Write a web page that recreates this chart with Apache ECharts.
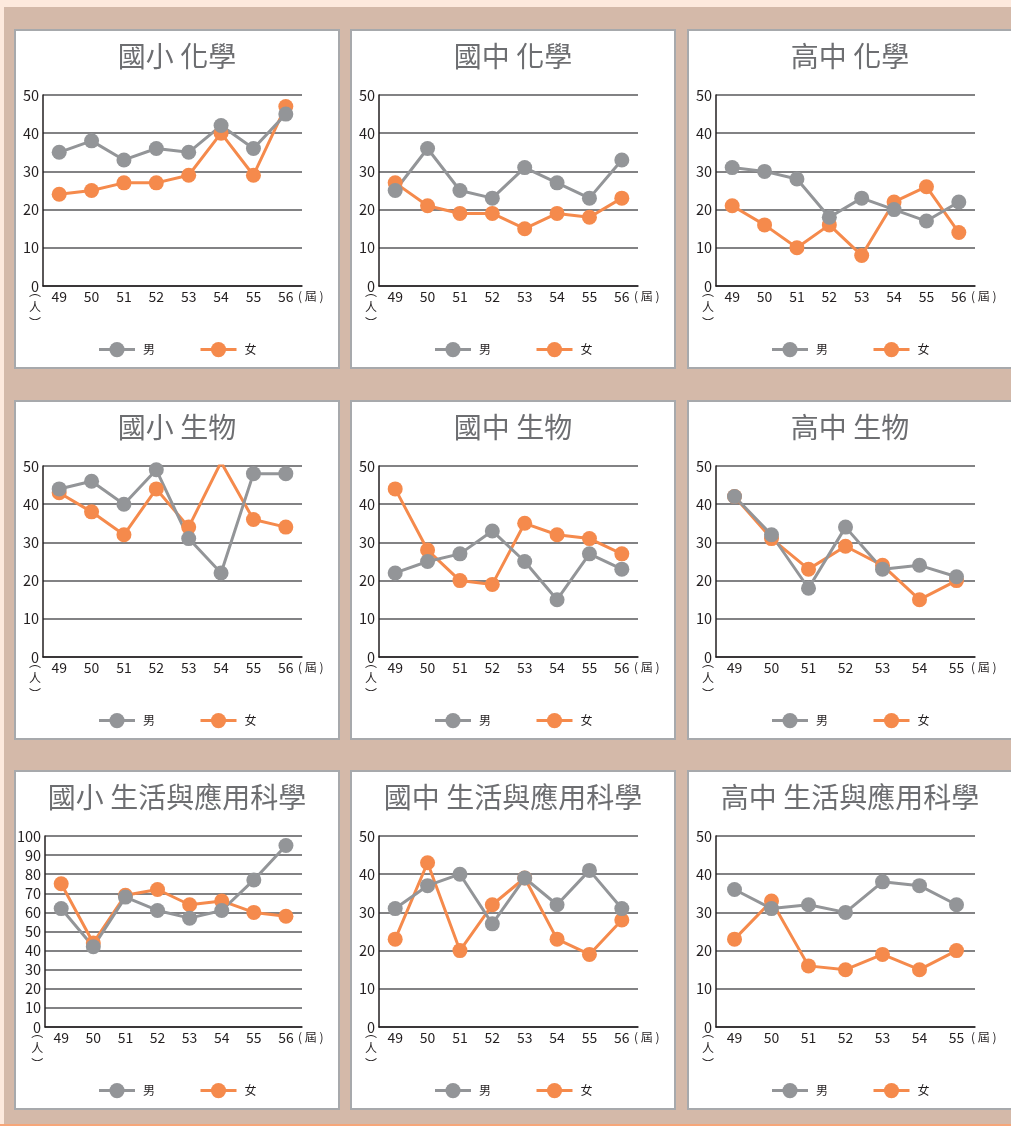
<!DOCTYPE html>
<html><head><meta charset="utf-8">
<script src="https://cdn.jsdelivr.net/npm/echarts@6/dist/echarts.min.js"></script>
<style>
html,body{margin:0;padding:0;width:1011px;height:1126px;overflow:hidden;background:#d4b9a9;position:relative;}
#topstrip{position:absolute;left:0;top:0;width:1011px;height:7px;background:#fde9dd;}
#leftstrip{position:absolute;left:0;top:0;width:4px;height:1126px;background:#fde9dd;}
#botline{position:absolute;left:0;top:1124px;width:1011px;height:2px;background:#f6a679;}
.panel{position:absolute;width:326px;height:340px;box-sizing:border-box;border:2px solid #a7a9ac;background:#fff;}
.chart{position:absolute;left:-2px;top:-2px;width:326px;height:340px;}
</style></head>
<body>
<div id="topstrip"></div><div id="leftstrip"></div><div id="botline"></div>
<div id="wrap"></div>
<script>
const cats8 = ['49','50','51','52','53','54','55','56'];
const cats7 = ['49','50','51','52','53','54','55'];

const titles = ['國小 化學','國中 化學','高中 化學','國小 生物','國中 生物','高中 生物','國小 生活與應用科學','國中 生活與應用科學','高中 生活與應用科學'];

// 男 (male) values per panel
const male1 = [35,38,33,36,35,42,36,45];
const male2 = [25,36,25,23,31,27,23,33];
const male3 = [31,30,28,18,23,20,17,22];
const male4 = [44,46,40,49,31,22,48,48];
const male5 = [22,25,27,33,25,15,27,23];
const male6 = [42,32,18,34,23,24,21];
const male7 = [62,42,68,61,57,61,77,95];
const male8 = [31,37,40,27,39,32,41,31];
const male9 = [36,31,32,30,38,37,32];

// 女 (female) values per panel
const female1 = [24,25,27,27,29,40,29,47];
const female2 = [27,21,19,19,15,19,18,23];
const female3 = [21,16,10,16,8,22,26,14];
const female4 = [43,38,32,44,34,51,36,34];
const female5 = [44,28,20,19,35,32,31,27];
const female6 = [42,31,23,29,24,15,20];
const female7 = [75,44,69,72,64,66,60,58];
const female8 = [23,43,20,32,39,23,19,28];
const female9 = [23,33,16,15,19,15,20];

const yMax = [50,50,50,50,50,50,100,50,50];
const yInterval = 10;
const xName = '( 屆 )';
const yName = '︵\n人\n︶';

const panels = [
  {cats:cats8, m:male1, f:female1},
  {cats:cats8, m:male2, f:female2},
  {cats:cats8, m:male3, f:female3},
  {cats:cats8, m:male4, f:female4},
  {cats:cats8, m:male5, f:female5},
  {cats:cats7, m:male6, f:female6},
  {cats:cats8, m:male7, f:female7},
  {cats:cats8, m:male8, f:female8},
  {cats:cats7, m:male9, f:female9}
];

const colX = [14,350,687];
const rowY = [29,400,770];
const GRAY = '#939598', ORANGE = '#f58a4c', TXT = '#231f20';
const FONT = '"Noto Sans CJK TC","Noto Sans",sans-serif';

const wrap = document.getElementById('wrap');
panels.forEach((p,i)=>{
  const pd = document.createElement('div');
  pd.className='panel';
  pd.style.left = colX[i%3]+'px';
  pd.style.top = rowY[Math.floor(i/3)]+'px';
  const cd = document.createElement('div');
  cd.className='chart';
  pd.appendChild(cd);
  wrap.appendChild(pd);
  const chart = echarts.init(cd, null, {renderer:'canvas'});
  chart.setOption({
    animation:false,
    textStyle:{fontFamily:FONT},
    title:{text:titles[i], left:'center', top:8,
      textStyle:{fontSize:28, fontWeight:'normal', color:'#6d6e71', fontFamily:FONT}},
    legend:{data:['男','女'], left:'center', top:308, itemWidth:36, itemHeight:19, itemGap:44,
      lineStyle:{width:3},
      textStyle:{fontSize:12, color:TXT, fontFamily:FONT, padding:[0,0,0,3]}},
    grid:{left:29, top:66, width:259, height:191},
    xAxis:{type:'category', data:p.cats, boundaryGap:true,
      axisTick:{show:false},
      axisLine:{lineStyle:{color:TXT, width:1.5}},
      axisLabel:{fontSize:14, color:TXT, margin:4, fontFamily:FONT},
      name:xName, nameLocation:'end', nameGap:-4, nameMoveOverlap:false,
      nameTextStyle:{fontSize:12, color:TXT, verticalAlign:'top', lineHeight:14, padding:[3,0,0,0], fontFamily:FONT}},
    yAxis:{type:'value', min:0, max:yMax[i], interval:yInterval,
      axisLine:{show:true, lineStyle:{color:TXT, width:1.5}},
      axisTick:{show:false},
      axisLabel:{fontSize:14.5, color:TXT, margin:4, fontFamily:FONT},
      splitLine:{show:true, lineStyle:{color:'#58595b', width:1.5}},
      name:yName, nameLocation:'start', nameGap:-3, nameMoveOverlap:false,
      nameTextStyle:{fontSize:12, color:TXT, lineHeight:16, align:'center', verticalAlign:'top', padding:[0,16,0,0], fontFamily:FONT}},
    series:[
      {name:'女', type:'line', data:p.f, symbol:'circle', symbolSize:15,
        itemStyle:{color:ORANGE}, lineStyle:{color:ORANGE, width:3}},
      {name:'男', type:'line', data:p.m, symbol:'circle', symbolSize:15,
        itemStyle:{color:GRAY}, lineStyle:{color:GRAY, width:3}}
    ]
  });
});
</script>
</body></html>
